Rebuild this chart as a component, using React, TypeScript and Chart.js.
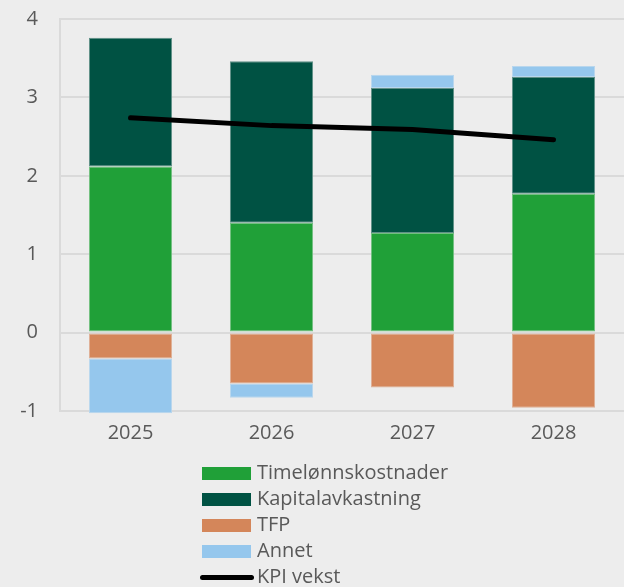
import React, { useEffect, useRef } from "react";
import { Chart, registerables } from "chart.js";

Chart.register(...registerables);

const categories = ["2025", "2026", "2027", "2028"];
const timelonn = [2.12, 1.4, 1.27, 1.77];
const kapital = [1.64, 2.06, 1.85, 1.49];
const tfp = [-0.33, -0.65, -0.7, -0.96];
const annet = [-0.7, -0.18, 0.17, 0.14];
const kpi = [2.74, 2.64, 2.59, 2.46];

const seriesNames = ["Timelønnskostnader", "Kapitalavkastning", "TFP", "Annet", "KPI vekst"];
const colors = ["#20a038", "#005243", "#d4865a", "#95c7ed", "#000000"];
const edgeColors = ["#72bf80", "#5f9087", "#deaf95", "#b8d6ed"];

const FONT = "'Open Sans', 'DejaVu Sans', sans-serif";
const TEXT = "#595959";
const GRID = "#dadada";

export default function App() {
  const ref = useRef<HTMLCanvasElement | null>(null);

  useEffect(() => {
    document.body.style.margin = "0";
    const ctx = ref.current!;
    const barDs = (label: string, data: number[], color: string, edge: string) => ({
      type: "bar" as const,
      label,
      data,
      backgroundColor: color,
      borderColor: edge,
      borderWidth: 1,
      borderSkipped: false,
      stack: "s",
      order: 2,
      clip: false as any,
      categoryPercentage: 1,
      barPercentage: 0.59,
    });
    const chart = new Chart(ctx, {
      type: "bar",
      data: {
        labels: categories,
        datasets: [
          barDs(seriesNames[0], timelonn, colors[0], edgeColors[0]),
          barDs(seriesNames[1], kapital, colors[1], edgeColors[1]),
          barDs(seriesNames[2], tfp, colors[2], edgeColors[2]),
          barDs(seriesNames[3], annet, colors[3], edgeColors[3]),
          {
            type: "line" as const,
            label: seriesNames[4],
            data: kpi,
            borderColor: colors[4],
            backgroundColor: colors[4],
            borderWidth: 5,
            borderCapStyle: "round",
            pointRadius: 0,
            tension: 0,
            stack: "kpi",
            order: 0,
          } as any,
        ],
      },
      options: {
        animation: false,
        responsive: false,
        maintainAspectRatio: false,
        layout: { padding: { top: 19, left: 0, right: 0, bottom: 0 } },
        plugins: { legend: { display: false }, tooltip: { enabled: false } },
        scales: {
          x: {
            stacked: true,
            grid: { display: false, drawTicks: false },
            border: { display: true, color: GRID, width: 2 },
            ticks: { color: TEXT, font: { family: FONT, size: 20 }, padding: 10 },
            afterFit: (s: any) => {
              s.height = 49;
            },
          },
          y: {
            stacked: true,
            min: -1,
            max: 4,
            grid: { color: GRID, lineWidth: 2, drawTicks: true, tickLength: 22, tickColor: "rgba(0,0,0,0)" },
            border: { display: true, color: GRID, width: 2 },
            ticks: { stepSize: 1, color: TEXT, font: { family: FONT, size: 20 }, padding: 0 },
            afterFit: (s: any) => {
              s.width = 60;
            },
          },
        },
      },
    });
    return () => chart.destroy();
  }, []);

  const legendRows = seriesNames.map((name, i) => (
    <div
      key={name}
      style={{ display: "flex", alignItems: "center", height: 26 }}
    >
      {i < 4 ? (
        <div style={{ width: 49, height: 13, background: colors[i], marginLeft: 2, marginRight: 6, marginTop: 3 }} />
      ) : (
        <div
          style={{
            width: 54,
            height: 5,
            background: colors[i],
            borderRadius: 3,
            marginLeft: 0,
            marginRight: 3,
            marginTop: 3,
          }}
        />
      )}
      <span style={{ fontFamily: FONT, fontSize: 20, color: TEXT, lineHeight: "26px" }}>{name}</span>
    </div>
  ));

  return (
    <div
      style={{
        position: "absolute",
        left: 0,
        top: 0,
        width: 624,
        height: 587,
        background: "#ededed",
        overflow: "hidden",
      }}
    >
      <canvas ref={ref} width={624} height={460} style={{ position: "absolute", left: 0, top: 0, width: 624, height: 460 }} />
      <div style={{ position: "absolute", left: 200, top: 459 }}>{legendRows}</div>
    </div>
  );
}
